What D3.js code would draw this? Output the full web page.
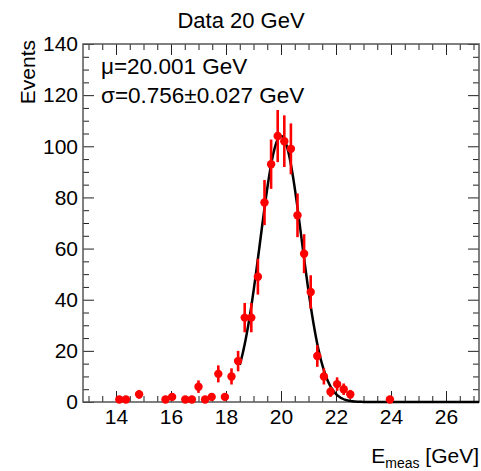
<!DOCTYPE html>
<html><head><meta charset="utf-8">
<script src="https://cdn.jsdelivr.net/npm/d3@7"></script>
<style>
body{margin:0;background:#fff}
text{font-family:"Liberation Sans",Arial,Helvetica,sans-serif;fill:#000}
</style>
</head><body>
<svg id="c" width="481" height="471"></svg>
<script>
// ---- data ----
const binCenters = [14.12,14.36,14.84,15.80,16.04,16.52,16.76,17.00,17.24,17.48,17.72,17.96,18.20,18.44,18.68,18.92,19.16,19.40,19.64,19.88,20.12,20.36,20.60,20.84,21.08,21.32,21.56,21.80,22.04,22.28,22.52,23.96];
const counts     = [1,1,3,1,2,1,1,6,1,2,11,2,10,16,33,33,49,78,93,104,102,99,73,58,43,18,10,4,7,5,3,1];
const xMajorTicks = [14,16,18,20,22,24,26];
const yMajorTicks = [0,20,40,60,80,100,120,140];
const fitMean = 20.001, fitSigma = 0.756, fitAmp = 104, fitRange = [18.5, 27.2];
const titleText = "Data 20 GeV";
const statLines = ["\u03bc=20.001 GeV", "\u03c3=0.756\u00b10.027 GeV"];

// ---- layout ----
const svg = d3.select("#c");
const L = 83, T = 44, R = 479, B = 402;
const x = d3.scaleLinear().domain([12.8, 27.2]).range([L, R]);
const y = d3.scaleLinear().domain([0, 140]).range([B, T]);
const xMinor = d3.range(13, 27.01, 0.5).filter(v => !xMajorTicks.includes(v));
const yMinor = d3.range(0, 140.01, 5).filter(v => !yMajorTicks.includes(v));

svg.append("rect").attr("width",481).attr("height",471).attr("fill","#fff");

function styleAxis(g){
  g.select(".domain").remove();
  g.selectAll(".tick line").attr("stroke","#222").attr("stroke-width",1);
  g.selectAll("text").attr("font-size",21).attr("font-family",'"Liberation Sans",Arial,sans-serif');
}
// bottom
svg.append("g").attr("transform",`translate(0,${B})`)
  .call(d3.axisBottom(x).tickValues(xMajorTicks).tickSize(-11).tickPadding(7).tickFormat(d3.format("d")))
  .call(styleAxis);
svg.append("g").attr("transform",`translate(0,${B})`)
  .call(d3.axisBottom(x).tickValues(xMinor).tickSize(-6).tickFormat(""))
  .call(styleAxis);
// top
svg.append("g").attr("transform",`translate(0,${T})`)
  .call(d3.axisTop(x).tickValues(xMajorTicks).tickSize(-11).tickFormat(""))
  .call(styleAxis);
svg.append("g").attr("transform",`translate(0,${T})`)
  .call(d3.axisTop(x).tickValues(xMinor).tickSize(-6).tickFormat(""))
  .call(styleAxis);
// left
svg.append("g").attr("transform",`translate(${L},0)`)
  .call(d3.axisLeft(y).tickValues(yMajorTicks).tickSize(-11).tickPadding(5).tickFormat(d3.format("d")))
  .call(styleAxis);
svg.append("g").attr("transform",`translate(${L},0)`)
  .call(d3.axisLeft(y).tickValues(yMinor).tickSize(-6).tickFormat(""))
  .call(styleAxis);
// right
svg.append("g").attr("transform",`translate(${R},0)`)
  .call(d3.axisRight(y).tickValues(yMajorTicks).tickSize(-11).tickFormat(""))
  .call(styleAxis);
svg.append("g").attr("transform",`translate(${R},0)`)
  .call(d3.axisRight(y).tickValues(yMinor).tickSize(-6).tickFormat(""))
  .call(styleAxis);

// frame
svg.append("rect").attr("x",L).attr("y",T).attr("width",R-L).attr("height",B-T)
  .attr("fill","none").attr("stroke","#555").attr("stroke-width",1.5);

// fit curve
const fitX = d3.range(fitRange[0], fitRange[1]+0.001, 0.02);
const gauss = v => fitAmp*Math.exp(-0.5*Math.pow((v-fitMean)/fitSigma,2));
svg.append("path").datum(fitX)
  .attr("d", d3.line().x(d=>x(d)).y(d=>y(gauss(d))))
  .attr("fill","none").attr("stroke","#000").attr("stroke-width",2.5);

// data points
const pts = binCenters.map((c,i)=>({x:c, y:counts[i], e:Math.sqrt(counts[i])}));
const gp = svg.append("g");
gp.selectAll("line").data(pts).join("line")
  .attr("x1",d=>x(d.x)).attr("x2",d=>x(d.x))
  .attr("y1",d=>y(Math.max(0,d.y-d.e))).attr("y2",d=>y(d.y+d.e))
  .attr("stroke","#ff0000").attr("stroke-width",2.6);
gp.selectAll("circle").data(pts).join("circle")
  .attr("cx",d=>x(d.x)).attr("cy",d=>y(d.y)).attr("r",4.2).attr("fill","#ff0000");

// texts
svg.append("text").attr("x",241).attr("y",28).attr("text-anchor","middle").attr("font-size",22).text(titleText);
svg.append("text").attr("x",101).attr("y",74).attr("font-size",22.5).text(statLines[0]);
svg.append("text").attr("x",101).attr("y",103).attr("font-size",22.5).text(statLines[1]);
svg.append("text").attr("transform","translate(35,40) rotate(-90)").attr("text-anchor","end").attr("font-size",21).text("Events");
const xt = svg.append("text").attr("x",479).attr("y",463).attr("text-anchor","end").attr("font-size",21);
xt.append("tspan").text("E");
xt.append("tspan").attr("font-size",14).attr("dy",5).text("meas");
xt.append("tspan").attr("dy",-5).text(" [GeV]");
</script>
</body></html>
